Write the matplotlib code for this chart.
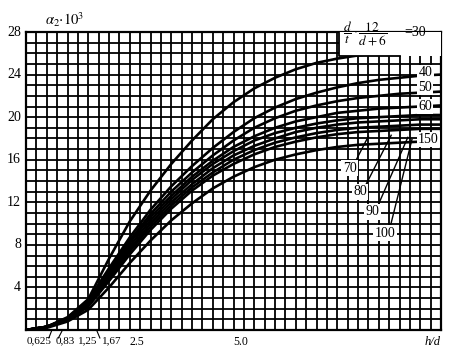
import numpy as np
import matplotlib
matplotlib.use("Agg")
import matplotlib.pyplot as plt

# h/d values shared by every curve
hd = [0, 0.5, 1.0, 1.5, 2.0, 2.5, 3.0, 3.5, 4.0, 4.5, 5.0, 5.5, 6.0, 6.5,
      7.0, 7.5, 8.0, 8.5, 9.0, 9.5, 10.0]

# alpha2 * 10^3 for each value of the parameter (d/t)*12/(d+6)
alpha_30 = [0, 0.3, 1.2, 2.9, 6.7, 10.2, 13.1, 15.6, 17.8, 19.8, 21.4, 22.7,
            23.7, 24.5, 25.1, 25.5, 25.8, 26.0, 26.2, 26.3, 26.4]
alpha_40 = [0, 0.3, 1.1, 2.8, 5.8, 8.7, 11.3, 13.5, 15.4, 17.1, 18.6, 19.9,
            20.9, 21.7, 22.3, 22.8, 23.2, 23.5, 23.7, 23.9, 24.0]
alpha_50 = [0, 0.3, 1.1, 2.7, 5.6, 8.4, 10.9, 13.0, 14.8, 16.4, 17.8, 19.0,
            19.9, 20.6, 21.1, 21.5, 21.8, 22.0, 22.2, 22.3, 22.4]
alpha_60 = [0, 0.3, 1.0, 2.6, 5.4, 8.2, 10.6, 12.6, 14.4, 15.9, 17.2, 18.2,
            19.0, 19.6, 20.0, 20.4, 20.6, 20.8, 20.9, 21.0, 21.1]
alpha_70 = [0, 0.3, 1.0, 2.5, 5.2, 7.9, 10.3, 12.3, 14.1, 15.6, 16.8, 17.8,
            18.5, 19.0, 19.4, 19.7, 19.9, 20.0, 20.1, 20.2, 20.2]
alpha_80 = [0, 0.3, 1.0, 2.4, 5.0, 7.6, 10.0, 12.0, 13.7, 15.2, 16.4, 17.3,
            18.0, 18.6, 19.0, 19.3, 19.5, 19.6, 19.7, 19.8, 19.8]
alpha_90 = [0, 0.3, 0.9, 2.3, 4.8, 7.4, 9.7, 11.7, 13.4, 14.8, 16.0, 16.9,
            17.6, 18.1, 18.5, 18.8, 19.0, 19.1, 19.2, 19.3, 19.3]
alpha_100 = [0, 0.3, 0.9, 2.2, 4.6, 7.1, 9.4, 11.4, 13.1, 14.5, 15.6, 16.5,
             17.2, 17.7, 18.1, 18.4, 18.6, 18.7, 18.8, 18.9, 18.9]
alpha_150 = [0, 0.2, 0.8, 1.9, 4.0, 6.3, 8.4, 10.3, 11.9, 13.3, 14.4, 15.3,
             16.0, 16.5, 16.9, 17.2, 17.4, 17.5, 17.6, 17.7, 17.7]

curves = [alpha_30, alpha_40, alpha_50, alpha_60, alpha_70, alpha_80,
          alpha_90, alpha_100, alpha_150]

y_ticks = [4, 8, 12, 16, 20, 24, 28]
x_tick_vals = [0.625, 0.83, 1.25, 1.67, 2.5, 5.0]
x_tick_text = ["0,625", "0,83", "1,25", "1,67", "2.5", "5.0"]

serif = ["Liberation Serif", "DejaVu Serif"]
plt.rcParams["font.family"] = serif
plt.rcParams["mathtext.fontset"] = "stix"

fig = plt.figure(figsize=(4.5, 3.5), dpi=100)
ax = fig.add_axes([26 / 450, 20 / 350, 415 / 450, 298 / 350])
ax.set_xlim(0, 10)
ax.set_ylim(0, 28)

# square grid: 0.25 along h/d, 1 along alpha
for gx in np.arange(0, 10.001, 0.25):
    ax.axvline(gx, color="black", lw=1.3, zorder=1)
for gy in np.arange(0, 28.001, 1.0):
    ax.axhline(gy, color="black", lw=1.3, zorder=1)

for s in ax.spines.values():
    s.set_linewidth(1.6)

for ys in curves:
    ax.plot(hd, ys, color="black", lw=1.9, zorder=3, solid_capstyle="round")

ax.set_xticks([])
ax.set_yticks([])
for v in y_ticks:
    ax.text(-0.12, v, str(v), ha="right", va="center", fontsize=10)

# h/d labels under the axis; the crowded ones are shifted and tied back
label_x = {0.625: 0.02, 0.83: 0.72, 1.25: 1.25, 1.67: 1.82, 2.5: 2.5, 5.0: 5.0}
label_size = {0.625: 8, 0.83: 8, 1.25: 8, 1.67: 8, 2.5: 8.5, 5.0: 8.5}
for v, t in zip(x_tick_vals, x_tick_text):
    ax.text(label_x[v], -0.55, t, ha="left", va="top", fontsize=label_size[v])
ax.plot([0.55, 0.625], [-0.75, 0.0], color="black", lw=0.8, clip_on=False)
ax.plot([0.78, 0.88], [-0.75, 0.0], color="black", lw=0.8, clip_on=False)
ax.plot([1.78, 1.70], [-0.75, 0.0], color="black", lw=0.8, clip_on=False)
ax.text(9.6, -0.55, "h/d", ha="left", va="top", fontsize=9, style="italic")

ax.text(0.45, 28.3, r"$\alpha_2{\cdot}10^3$", ha="left", va="bottom", fontsize=10.5)

# parameter formula in a white panel at the top right
ax.add_patch(plt.Rectangle((7.55, 25.7), 2.45, 2.3, facecolor="white",
                           edgecolor="none", zorder=4))
ax.plot([7.55, 7.55, 9.0], [28.0, 25.7, 25.7], color="black", lw=1.3, zorder=5)
ax.text(7.65, 27.95, r"$\dfrac{d}{t}\cdot\dfrac{12}{d+6}$", ha="left",
        va="center", fontsize=9.5, zorder=6, clip_on=False)
ax.text(9.12, 27.95, "=30", ha="left", va="center", fontsize=10, zorder=6,
        clip_on=False)

box = dict(facecolor="white", edgecolor="none", pad=1.0)
for label, (lx, ly) in {"40": (9.62, 24.2), "50": (9.62, 22.8),
                        "60": (9.62, 21.0), "150": (9.7, 17.9)}.items():
    ax.text(lx, ly, label, ha="center", va="center", fontsize=10, bbox=box,
            zorder=6)

# leader lines for the crowded group
leaders = {"70": ((7.8, 15.2), (8.25, 18.2)),
           "80": ((8.05, 13.0), (8.8, 18.3)),
           "90": ((8.35, 11.1), (9.2, 18.1)),
           "100": ((8.65, 9.1), (9.3, 17.9))}
for label, ((lx, ly), (ex, ey)) in leaders.items():
    ax.plot([lx + 0.12, ex], [ly + 0.5, ey], color="black", lw=1.0, zorder=5)
    ax.text(lx, ly, label, ha="center", va="center", fontsize=10, bbox=box,
            zorder=6)

fig.savefig("out.png", dpi=100, facecolor="white")
